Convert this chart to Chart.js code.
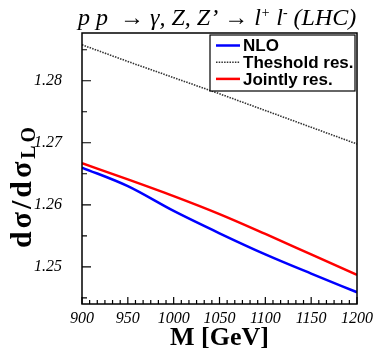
<!DOCTYPE html>
<html>
<head>
<meta charset="utf-8">
<script src="https://cdn.jsdelivr.net/npm/chart.js@4.4.1/dist/chart.umd.min.js"></script>
<style>
    html, body { margin: 0; padding: 0; background: #fff; }
</style>
</head>
<body>
<canvas id="chart" width="373" height="349"></canvas>
<script>
// valores
const masses = [900, 950, 1000, 1050, 1100, 1150, 1200];
const nloValues = [1.2660, 1.2630, 1.2590, 1.2554, 1.2520, 1.2489, 1.2459];
const thresholdValues = [1.2858, 1.2831, 1.2805, 1.2779, 1.2752, 1.2725, 1.2698];
const jointlyValues = [1.2667, 1.2641, 1.2614, 1.2585, 1.2553, 1.2520, 1.2487];

const xTicks = [900, 950, 1000, 1050, 1100, 1150, 1200];
const yTicks = [1.25, 1.26, 1.27, 1.28];

const serif = "'Liberation Serif', 'DejaVu Serif', serif";
const sans = "'Liberation Sans', Arial, sans-serif";

function toPoints(values) {
    return masses.map((m, i) => ({ x: m, y: values[i] }));
}

// moldura, ticks internos, legenda e titulos
const framePlugin = {
    id: 'framePlugin',
    afterDraw(chart) {
        const { ctx, chartArea: a, scales: { x, y } } = chart;
        ctx.save();

        // ticks do eixo y (major 0.01, minor 0.005)
        ctx.strokeStyle = '#000';
        ctx.lineWidth = 1.2;
        ctx.beginPath();
        for (let k = 0; k <= 10; k++) {
            const v = 1.24 + k * 0.005;
            const py = y.getPixelForValue(v);
            if (py < a.top || py > a.bottom) continue;
            const len = k % 2 === 0 ? 9 : 5;
            ctx.moveTo(a.left, py);
            ctx.lineTo(a.left + len, py);
        }
        // ticks do eixo x
        for (let k = 0; k <= 36; k++) {
            const v = 900 + k * 50 / 6;
            const px = x.getPixelForValue(v);
            const len = k % 6 === 0 ? 7 : 4;
            ctx.moveTo(px, a.bottom);
            ctx.lineTo(px, a.bottom - len);
        }
        ctx.stroke();

        // moldura
        ctx.lineWidth = 1.5;
        ctx.strokeRect(a.left, a.top, a.right - a.left, a.bottom - a.top);

        // legenda
        const bx = a.right - 147, by = a.top + 2, bw = 145, bh = 56;
        ctx.fillStyle = '#fff';
        ctx.fillRect(bx, by, bw, bh);
        ctx.lineWidth = 1.2;
        ctx.strokeStyle = '#000';
        ctx.strokeRect(bx, by, bw, bh);
        ctx.font = 'bold 17px ' + sans;
        ctx.textBaseline = 'middle';
        ctx.textAlign = 'left';
        chart.data.datasets.forEach((ds, i) => {
            const ry = by + 10.5 + i * 16.7;
            ctx.beginPath();
            ctx.strokeStyle = ds.borderColor;
            ctx.lineWidth = ds.borderWidth;
            ctx.setLineDash(ds.borderDash || []);
            ctx.moveTo(bx + 6, ry);
            ctx.lineTo(bx + 30, ry);
            ctx.stroke();
            ctx.setLineDash([]);
            ctx.fillStyle = '#000';
            ctx.fillText(ds.label, bx + 33, ry + 1);
        });

        // titulo do eixo x
        ctx.fillStyle = '#000';
        ctx.textAlign = 'center';
        ctx.textBaseline = 'alphabetic';
        ctx.font = 'bold 26px ' + serif;
        ctx.fillText('M [GeV]', (a.left + a.right) / 2, 345);

        // titulo do eixo y com subscrito
        ctx.save();
        ctx.translate(31, 186);
        ctx.rotate(-Math.PI / 2);
        const main = 'dσ/dσ', sub = 'LO';
        ctx.letterSpacing = '3px';
        ctx.font = 'bold 30px ' + serif;
        const wMain = ctx.measureText(main).width;
        ctx.font = 'bold 20px ' + serif;
        const wSub = ctx.measureText(sub).width;
        const start = -(wMain + wSub) / 2;
        ctx.textAlign = 'left';
        ctx.font = 'bold 30px ' + serif;
        ctx.fillText(main, start, 0);
        ctx.font = 'bold 20px ' + serif;
        ctx.fillText(sub, start + wMain, 4);
        ctx.restore();

        // titulo do grafico
        ctx.textAlign = 'left';
        let tx = 78;
        const parts = [
            ['p p  \u2192 \u03B3, Z, Z\u2019 \u2192 l', 0, 24],
            ['+', -8, 14],
            [' l', 0, 24],
            ['-', -8, 14],
            [' (LHC)', 0, 24]
        ];
        parts.forEach(([txt, dy, size]) => {
            ctx.font = 'italic ' + size + 'px ' + serif;
            ctx.fillText(txt, tx, 25 + dy);
            tx += ctx.measureText(txt).width;
        });

        ctx.restore();
    }
};

const ctx = document.getElementById('chart').getContext('2d');

new Chart(ctx, {
    type: 'line',
    data: {
        datasets: [{
            label: 'NLO',
            data: toPoints(nloValues),
            borderColor: '#0000ff',
            borderWidth: 2.5,
            pointRadius: 0,
            cubicInterpolationMode: 'monotone'
        }, {
            label: 'Theshold res.',
            data: toPoints(thresholdValues),
            borderColor: '#333333',
            borderWidth: 1.6,
            borderDash: [1.5, 1.2],
            pointRadius: 0
        }, {
            label: 'Jointly res.',
            data: toPoints(jointlyValues),
            borderColor: '#ff0000',
            borderWidth: 2.5,
            pointRadius: 0,
            cubicInterpolationMode: 'monotone'
        }]
    },
    options: {
        responsive: false,
        animation: false,
        layout: {
            padding: { top: 33, right: 16, left: 0, bottom: 0 }
        },
        plugins: {
            legend: { display: false },
            tooltip: { enabled: false }
        },
        scales: {
            x: {
                type: 'linear',
                min: 900,
                max: 1200,
                afterBuildTicks: (s) => { s.ticks = xTicks.map(v => ({ value: v })); },
                afterFit: (s) => { s.height = 45; s.paddingLeft = 0; s.paddingRight = 0; },
                grid: { display: false, drawTicks: false },
                border: { display: false },
                ticks: {
                    font: { family: serif, style: 'italic', size: 16 },
                    color: '#000',
                    padding: 5,
                    maxRotation: 0,
                    autoSkip: false,
                    callback: (v) => String(v)
                }
            },
            y: {
                type: 'linear',
                min: 1.244,
                max: 1.2877,
                afterBuildTicks: (s) => { s.ticks = yTicks.map(v => ({ value: v })); },
                afterFit: (s) => { s.width = 82; s.paddingTop = 0; s.paddingBottom = 0; },
                grid: { display: false, drawTicks: false },
                border: { display: false },
                ticks: {
                    font: { family: serif, style: 'italic', size: 16 },
                    color: '#000',
                    padding: 20,
                    callback: (v) => v.toFixed(2)
                }
            }
        }
    },
    plugins: [framePlugin]
});
</script>
</body>
</html>
